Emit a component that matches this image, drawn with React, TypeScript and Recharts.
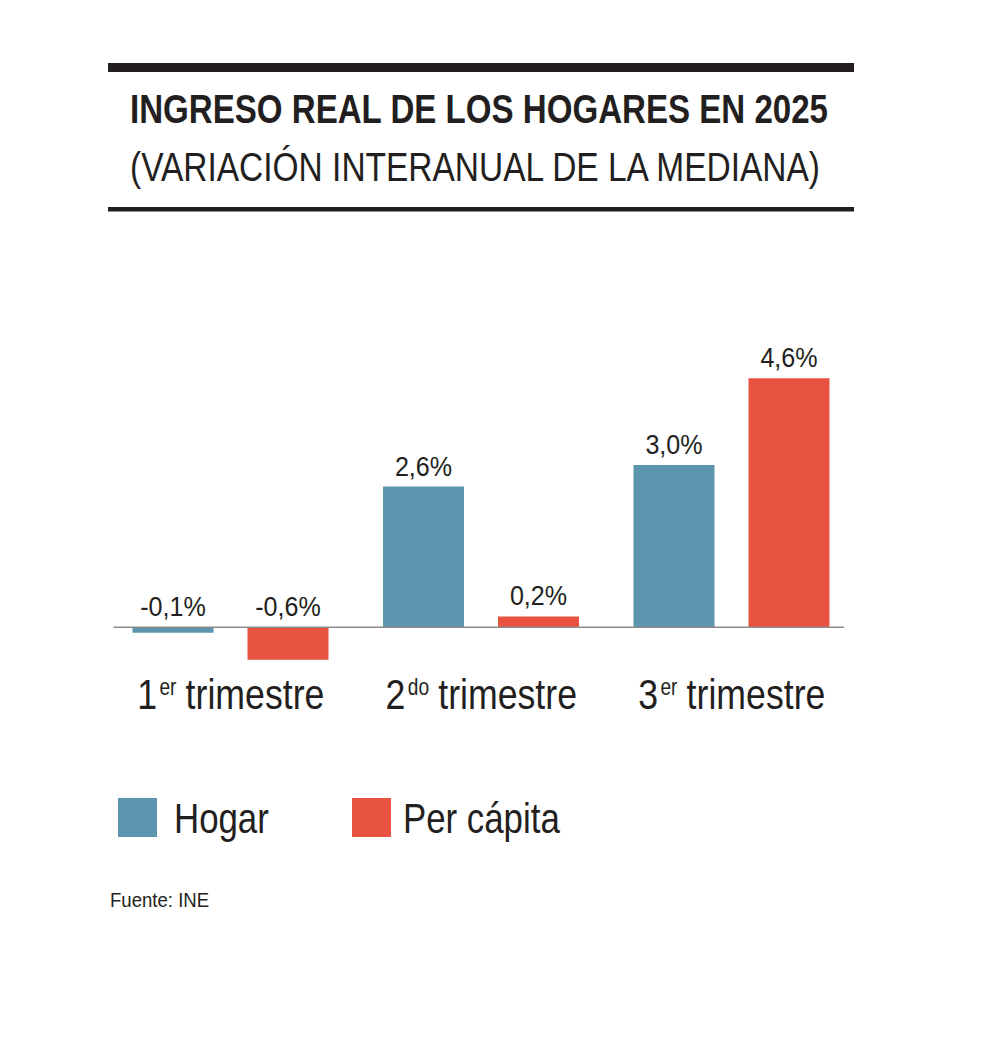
import React from 'react'
import { BarChart, Bar, XAxis, YAxis, ReferenceLine, LabelList } from 'recharts'

// datos
const quarterNum = ['1', '2', '3']
const quarterSup = ['er', 'do', 'er']
const quarters = ['1er trimestre', '2do trimestre', '3er trimestre']
const hogar = [-0.1, 2.6, 3.0]
const perCapita = [-0.6, 0.2, 4.6]
const seriesNames = ['Hogar', 'Per cápita']
const seriesColors = ['#5B95AE', '#E85240']

// no condensed font installed: squeeze Liberation Sans horizontally
const FONT = '"Liberation Sans", Arial, sans-serif'
const INK = '#231F20'

const data = quarters.map((q, i) => ({ q, hogar: hogar[i], perCapita: perCapita[i] }))

const fmt = (v: number) => v.toFixed(1).replace('.', ',') + '%'

function Narrow({ x, y, sx, anchor = 'start', size, weight, children }: any) {
  return (
    <g transform={`translate(${x},${y}) scale(${sx},1)`}>
      <text x={0} y={0} textAnchor={anchor} fontFamily={FONT} fontSize={size} fontWeight={weight} fill={INK}>
        {children}
      </text>
    </g>
  )
}

function ValueLabel(props: any) {
  const { x, y, width, height, value } = props
  const top = Math.min(Number(y), Number(y) + Number(height))
  return (
    <Narrow x={Number(x) + Number(width) / 2} y={top - 11} sx={0.93} anchor="middle" size={27}>
      {fmt(Number(value))}
    </Narrow>
  )
}

function QuarterTick(props: any) {
  const { x, y, payload } = props
  const i = quarters.indexOf(payload.value)
  return (
    <Narrow x={x} y={y + 30} sx={0.83} anchor="middle" size={43}>
      <tspan>{quarterNum[i]}</tspan>
      <tspan fontSize={23} dy={-14} dx={3}>{quarterSup[i]}</tspan>
      <tspan dy={14} dx={11}>trimestre</tspan>
    </Narrow>
  )
}

function ZeroLine(props: any) {
  const { x1, y1, x2, y2 } = props
  return <line x1={x1 + 8} y1={y1} x2={x2 - 13} y2={y2} stroke="#8C8C8C" strokeWidth={1.5} />
}

export default function App() {
  return (
    <div style={{ position: 'absolute', left: 0, top: 0, width: 990, height: 1038, background: '#fff' }}>
      <BarChart
        width={990}
        height={1038}
        data={data}
        margin={{ top: 356.65, right: 133, bottom: 307.4, left: 105.5 }}
        barGap={34}
        style={{ position: 'absolute', left: 0, top: 0 }}
      >
        <XAxis dataKey="q" axisLine={false} tickLine={false} height={60} interval={0} tick={<QuarterTick />} />
        <YAxis hide domain={[-0.8, 5]} />
        <ReferenceLine y={0} shape={<ZeroLine />} />
        <Bar dataKey="hogar" name={seriesNames[0]} fill={seriesColors[0]} barSize={81} isAnimationActive={false}>
          <LabelList dataKey="hogar" content={<ValueLabel />} />
        </Bar>
        <Bar dataKey="perCapita" name={seriesNames[1]} fill={seriesColors[1]} barSize={81} isAnimationActive={false}>
          <LabelList dataKey="perCapita" content={<ValueLabel />} />
        </Bar>
      </BarChart>

      <svg width={990} height={1038} style={{ position: 'absolute', left: 0, top: 0, pointerEvents: 'none' }}>
        <rect x={108} y={63} width={746} height={9} fill={INK} />
        <text x={130} y={123} fontFamily={FONT} fontWeight="bold" fontSize={40} fill={INK}
          textLength={698} lengthAdjust="spacingAndGlyphs">
          INGRESO REAL DE LOS HOGARES EN 2025
        </text>
        <text x={130} y={181} fontFamily={FONT} fontSize={40} fill={INK}
          textLength={690} lengthAdjust="spacingAndGlyphs">
          (VARIACIÓN INTERANUAL DE LA MEDIANA)
        </text>
        <rect x={108} y={207} width={746} height={4.5} fill={INK} />

        {seriesNames.map((name, i) => (
          <g key={name}>
            <rect x={[118, 352][i]} y={798} width={39} height={39} fill={seriesColors[i]} />
            <Narrow x={[174, 403][i]} y={833} sx={0.81} size={43}>{name}</Narrow>
          </g>
        ))}

        <Narrow x={110} y={907} sx={0.93} size={20}>Fuente: INE</Narrow>
      </svg>
    </div>
  )
}
